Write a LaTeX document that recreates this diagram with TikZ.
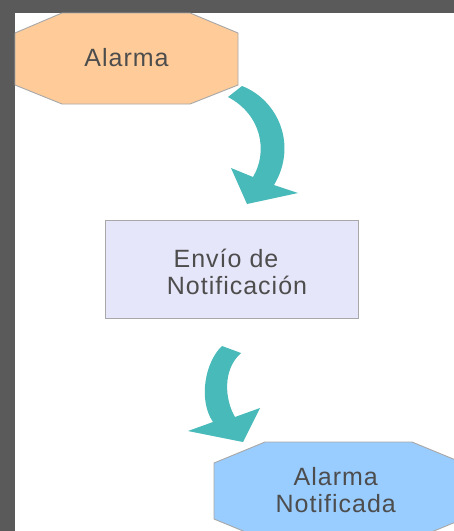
\documentclass[tikz,border=0pt]{standalone}
\usepackage{fontspec}
\setmainfont{Liberation Sans}[LetterSpace=4]
\definecolor{bandgray}{HTML}{5A5A5A}
\definecolor{peach}{HTML}{FFCC99}
\definecolor{lav}{HTML}{E6E6FA}
\definecolor{skyb}{HTML}{99CCFF}
\definecolor{tealarrow}{HTML}{48BAB9}
\definecolor{edgegray}{HTML}{A8A8A8}
\definecolor{txtgray}{HTML}{4D4D4D}
\begin{document}
\begin{tikzpicture}[x=1pt,y=-1pt,
  shapeline/.style={draw=edgegray,line width=0.9pt,line join=miter},
  label/.style={text=txtgray,font=\fontsize{25}{27}\selectfont,align=center,inner sep=0pt},
  bigarrow/.style={fill=tealarrow,draw=none}]
\useasboundingbox (0,0) rectangle (454,531);
\clip (0,0) rectangle (454,531);
\fill[white] (0,0) rectangle (454,531);
\fill[bandgray] (0,0) rectangle (454,13);
\fill[bandgray] (0,0) rectangle (15,531);
% octagon 1
\path[shapeline,fill=peach] (62,13) -- (190,13) -- (238,33) -- (238,85) -- (190,104) -- (62,104) -- (15,85) -- (15,33) -- cycle;
\node[label] (alarma) at (126.5,58) {Alarma};
% arrow 1
\path[bigarrow] (228,97) -- (242,86) .. controls (278,100) and (298,145) .. (274,185)
  -- (298,193) -- (247,204) -- (231,168) -- (253,177)
  .. controls (268,152) and (262,115) .. (228,97) -- cycle;
% rectangle
\node[shapeline,fill=lav,minimum width=253pt,minimum height=98pt,inner sep=0pt] (envio) at (231.5,269) {};
\node[label] (enviotext) at (231.5,272) {Envío de\kern11pt\\\kern11pt Notificación};
% arrow 2
\path[bigarrow] (241,353) -- (222,346) .. controls (205,362) and (198,400) .. (213,422)
  -- (188,431) -- (243,442) -- (260,408) -- (235,417)
  .. controls (225,400) and (222,370) .. (241,353) -- cycle;
% octagon 2
\path[shapeline,fill=skyb] (265,442) -- (412,442) -- (463,463) -- (463,519) -- (412,540) -- (265,540) -- (214,519) -- (214,463) -- cycle;
\node[label] (notificada) at (335.8,490) {Alarma\\Notificada};
\end{tikzpicture}
\end{document}
